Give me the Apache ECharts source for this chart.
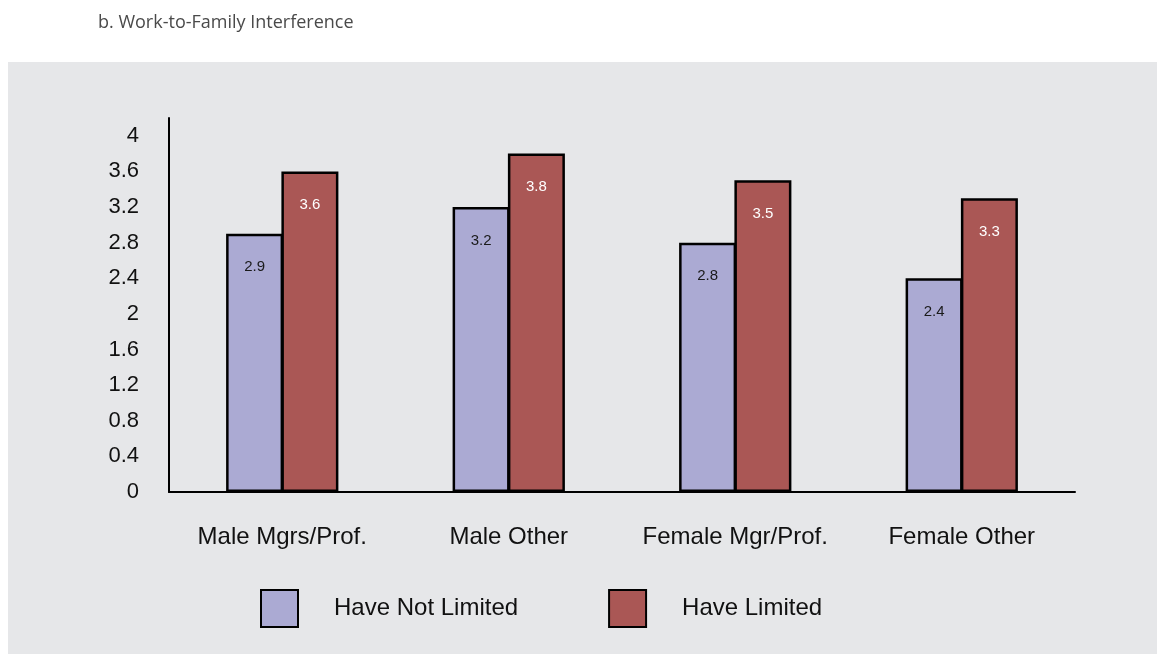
<!DOCTYPE html>
<html>
<head>
<meta charset="utf-8">
<script src="https://cdn.jsdelivr.net/npm/echarts@6/dist/echarts.min.js"></script>
<style>html,body{margin:0;padding:0;background:#fff;}#c{width:1157px;height:654px;}</style>
</head>
<body>
<div id="c"></div>
<script>
const titleText = 'b. Work-to-Family Interference';
const categories = ['Male Mgrs/Prof.', 'Male Other', 'Female Mgr/Prof.', 'Female Other'];
const seriesNames = ['Have Not Limited', 'Have Limited'];
const haveNotLimited = [2.9, 3.2, 2.8, 2.4];
const haveLimited = [3.6, 3.8, 3.5, 3.3];
const yTicks = { min: 0, max: 4.2, interval: 0.4 };

const chart = echarts.init(document.getElementById('c'), null, { renderer: 'canvas' });
const font = '"Liberation Sans", Arial, sans-serif';
chart.setOption({
  backgroundColor: '#ffffff',
  animation: false,
  graphic: [{
    type: 'rect', left: 8, top: 62, z: -10,
    shape: { width: 1149, height: 592 },
    style: { fill: '#e6e7e9' }
  }],
  title: {
    text: titleText, left: 93, top: 9,
    textStyle: { fontFamily: '"Open Sans", sans-serif', fontSize: 18, fontWeight: 'normal', color: '#4a4a4a' }
  },
  grid: { left: 169, right: 82, top: 118, bottom: 162 },
  legend: {
    left: 260, top: 589, padding: 0, itemWidth: 37, itemHeight: 37, itemGap: 90,
    icon: 'rect',
    textStyle: { fontFamily: font, fontSize: 24, color: '#111', padding: [0, 0, 0, 31] },
    data: seriesNames
  },
  xAxis: {
    type: 'category', data: categories,
    axisLine: { lineStyle: { color: '#000', width: 2 } },
    axisTick: { show: false },
    axisLabel: { interval: 0, fontFamily: font, fontSize: 24, color: '#111', margin: 33 }
  },
  yAxis: {
    type: 'value', min: yTicks.min, max: yTicks.max, interval: yTicks.interval,
    axisLine: { show: true, lineStyle: { color: '#000', width: 2 } },
    axisTick: { show: false },
    splitLine: { show: false },
    axisLabel: { fontFamily: font, fontSize: 22, color: '#111', margin: 30, showMaxLabel: false,
      formatter: v => String(Math.round(v * 10) / 10) }
  },
  series: [
    {
      name: seriesNames[0], type: 'bar', data: haveNotLimited, barWidth: 57, barGap: '-3%',
      itemStyle: { color: '#abaad3', borderColor: '#000', borderWidth: 2.5 },
      label: { show: true, position: 'insideTop', distance: 26, fontFamily: font, fontSize: 15, color: '#1a1a1a' }
    },
    {
      name: seriesNames[1], type: 'bar', data: haveLimited, barWidth: 57, barGap: '-3%',
      itemStyle: { color: '#aa5755', borderColor: '#000', borderWidth: 2.5 },
      label: { show: true, position: 'insideTop', distance: 26, fontFamily: font, fontSize: 15, color: '#ffffff' }
    }
  ]
});
</script>
</body>
</html>
